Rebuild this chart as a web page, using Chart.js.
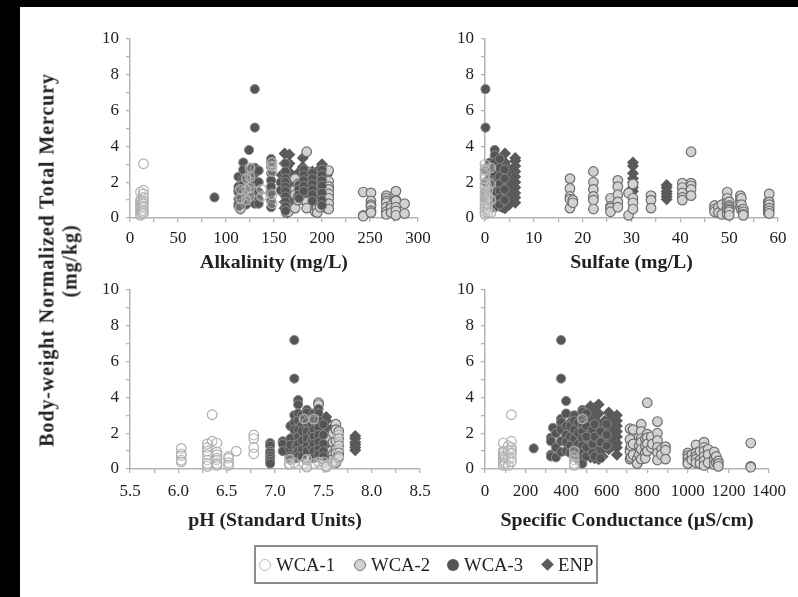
<!DOCTYPE html>
<html>
<head>
<meta charset="utf-8">
<script src="https://cdn.jsdelivr.net/npm/chart.js@4"></script>
<style>
  html, body { margin: 0; background: #fff; }
  body { position: relative; width: 798px; height: 597px; overflow: hidden; font-family: "Liberation Serif", serif; color: #222; }
  canvas { position: absolute; filter: blur(0.5px); }
  .band { position: absolute; background: #000; }
  .ylabel { position: absolute; font-weight: bold; font-size: 20px; letter-spacing: 0.9px; white-space: nowrap; filter: blur(0.4px); transform: translate(-50%, -50%) rotate(-90deg); }
  #legend { position: absolute; left: 254px; top: 545px; width: 340px; height: 35px; border: 2px solid #8c8c8c; filter: blur(0.4px); }
  #legend span { position: absolute; top: 6px; font-size: 18.7px; line-height: 24px; }
  #legend i { position: absolute; top: 12px; box-sizing: border-box; }
</style>
</head>
<body>
<div class="band" style="left:0;top:0;width:798px;height:7px"></div>
<div class="band" style="left:0;top:0;width:20px;height:597px"></div>
<div class="ylabel" style="left:47px;top:260px">Body-weight Normalized Total Mercury</div>
<div class="ylabel" style="left:70px;top:261px">(mg/kg)</div>
<canvas id="alk"></canvas>
<canvas id="so4"></canvas>
<canvas id="ph"></canvas>
<canvas id="sc"></canvas>
<div id="legend"></div>

<script>
// ===== DATA: each column is [x, y, y, y ...] =====

const seriesNames = ['WCA-1', 'WCA-2', 'WCA-3', 'ENP'];

const alkWca1 = [[11,1.45,1.0,.9,.75,.65,.5,.35,.2,.15],[12.5,.85,.6,.3],[14,3.03,1.55,1.35,1.15,.95,.8,.6,.4,.25],
  [115,1.6,1.1,.6],[121,2.2,1.6,1.0],[125,2.8,2.3,1.7,1.2],[137,1.6,1.2],[148,3.1,2.9,2.6,1.3,.8]];
const alkWca2 = [[115,.5],[163,.3],[165,.55,.35],[172,2.2,1.6,1.3,.55],[175,1.9,1.2,1.0],[184,3.7,2.6,2.2,.9,.55],
  [193,.75,.45,.35],[195,.55,.3],[198,.6],[205,.55],[207,2.65,2.05,1.75,1.6,1.35,1.1,.8,.5],[243,1.45,.15,.1],
  [251,1.4,.95,.75,.65,.4,.3],[267,1.25,1.1,.95,.85,.6,.35,.2],[272,.7,.55,.3],[277,1.5,1.0,.95,.6,.4,.15],[286,.8,.25]];
const alkWca3 = [[88,1.15],[113,2.3,1.75,1.55,1.45,1.05,.8,.65],[118,3.1,2.7,2.2,1.9,1.5,.9],[121,1.3,.9,.75],[124,3.8,2.4,1.9,1.5,1.0],
  [127,2.8,2.3,2.0,1.45,.95],[130,7.2,5.05,2.8,2.5,2,1.45,.95,.8],[134,2.65,2.0,1.45,1.05,.8],[147,3.3,3.1,2.85,2.5,2.1,1.75,1.4,.95,.6],
  [157,2.0,1.55],[162,3.05,2.6,2.2,2.0,1.75,1.5,1.2,.9,.65,.4],[176,1.85,1.6,1.3,1.1],[181,2.7,2.4,2.1,1.8,1.5],
  [190,2.5,2.2,1.9,1.6,1.3,.95],[200,2.7,2.4,2.1,1.8,1.4,1.0,.7]];
const alkEnp = [[158,2.4,1.9,1.5],[161,3.6,3.05,2.55,2.1,1.7,1.3,.9,.55],[164,2.9,2.3,1.9,1.5,1.1,.8,.4,.3],[166,3.55,3.05,2.55,2.2,1.8,1.4,1.0,.7],
  [170,2.2,1.8,1.4,1.0],[175,2.5,2.1,1.7,1.3,1.1],[180,3.35,2.85,2.5,2.2,1.9,1.6,1.3,1.05],[185,2.4,2.0,1.6,1.25],
  [190,2.6,2.3,2,1.7,1.4,1.1],[195,2.6,2.2,1.8,1.4,1.0],[200,3.0,2.8,2.4,2.0,1.7,1.3,1.0,.75],[205,2.4,2.0,1.6,1.2]];

const so4Wca1 = [[0,3.0,2.7,2.4,2.2,1.9,1.7,1.45,1.3,1.1,.9,.75,.6,.5,.35,.2],[.6,1.55,1.2,.8,.5,.3],[1.2,2.8,1.9,1.0,.3]];
const so4Wca2 = [[17.4,2.2,1.65,1.2,1.05,.55],[18,1,.85],[22.2,2.6,2.0,1.6,1.2,1.0,.5],[25.7,1.1,.65,.55,.35],
  [27.2,2.1,1.75,1.3,.9,.6],[29.4,1.4,.15],[30.3,1.9,1.1,.85,.5],[34,1.25,1.0,.55],[40.4,1.95,1.7,1.4,1.15,1.0],
  [42.2,3.7,1.95,1.8,1.6,1.25],[47,.7,.5,.35],[47.8,.6,.3],[48.5,.75,.2],[49.6,1.45,1.1,.85,.6,.4,.2],[50,.9,.7,.6,.5,.45,.35,.15],
  [52.3,1.25,1.05,.85,.6],[52.5,1.1,.75,.45],[52.9,.5,.35,.2,.15],[58,.9,.65,.45,.3],[58.2,1.35,.9,.75,.55,.4,.25]];
const so4Wca3 = [[.1,7.2,5.05,2.65,2.0,1.5,1.1],[.4,2.65],[1,3.1,2.7,2.2,1.8,1.4,.9],[2,3.8,3.5,3.1,2.5,2.0,1.5,1.0,.6],
  [3,3.3,2.8,2.3,1.9,1.5,1.1,.75],[4,2.7,2.2,1.6,1.0]];
const so4Enp = [[1.5,2.3,1.6,1.0,.6],[2,3.0,2.4,1.8,1.3,.9],[3.1,2.6,2.2,1.8,1.4,1.0,.65],[3.6,3.2,2.6,2.0,1.5,.9,.6],
  [4.1,3.6,3.1,2.7,2.3,2.0,1.6,1.3,.95,.55],[5,2.7,2.2,1.8,1.4,1.0,.75],[6.2,3.35,3.2,2.9,2.6,2.3,2.0,1.7,1.4,1.15,.85],
  [30.3,3.1,2.9,2.5,2.2,2.0,1.7,1.5],[37.2,1.85,1.7,1.5,1.35,1.2,1.05]];

const phWca1 = [[6.03,1.15,.85,.75,.5,.4],[6.3,1.4,1.2,1.0,.8,.5,.3,.15],[6.35,3.03,1.55],[6.4,1.45,.95,.8,.6,.5,.3,.2],
  [6.52,.7,.6,.35,.2],[6.6,1.0],[6.78,1.9,1.7,1.2,.85],[7.15,.55,.3,.25],[7.2,.35],[7.3,2.8,.3],[7.33,.55,.15,.1],[7.4,2.8,.3],
  [7.45,.4],[7.5,.4],[7.53,.15,.1],[7.6,.4,.35],[7.66,1.9,1.5,1.1,.6]];
const phWca2 = [[7.28,.7],[7.33,.5],[7.45,3.7,3.6],[7.5,.55],[7.53,.15],[7.55,1.8,.95],[7.58,1.0,.7],[7.6,2.0,1.5,.8,.55],
  [7.63,2.5,2.2,1.55,1.1,.9,.5,.35],[7.66,2.1,1.7,1.3,.9,.7]];
const phWca3 = [[6.95,1.45,1.3,1.0,.9,.75,.6,.45,.3],[7.08,1.55,1.4,1.0],[7.15,1.15,.7],[7.16,2.4,1.7,1.35,.5],[7.2,7.2,5.05,3.0,2.6,2.2],
  [7.22,1.3,.9,.6],[7.24,3.85,3.6,3.1,2.7,2.2,1.8,1.4,1,.7],[7.28,3.0,2.5,2.1,1.6,1.1,.7],[7.33,3.3,3.15,2.6,2.1,1.7,1.3,1.0],
  [7.38,2.5,2.0,1.6,1.2],[7.4,3.1,2.7,2.2,1.8,1.4,1.0,.6],[7.45,3.35,3.1,2.7,2.3,1.9,1.5,1.1,.8],[7.5,2.5,1.9,1.4,1.0,.7]];
const phEnp = [[7.2,2.4,1.9,1.5,1.0,.6],[7.25,2.6,2.0,1.6,1.1],[7.28,2.9,2.4,2,1.6,1.2,.8],[7.33,2.8,2.3,1.8,1.5,.9,.65],
  [7.38,2.8,2.4,2,1.6,1.2,.85],[7.43,2.7,2.2,1.8,1.4,1],[7.48,2.6,2.1,1.6,1.2,.8],[7.53,2.9,2.7,2.3,1.9,1.5,1,.75],
  [7.58,2.2,1.8,1.3,.9],[7.83,1.85,1.7,1.5,1.35,1.2,1.05]];

const scWca1 = [[90,1.45,1.0,.9,.75,.65,.5,.35,.2],[100,.6,.3],[115,1.3,1.0,.6,.2],[130,3.03,1.55,1.2,1.05,.9,.6,.4],[440,1.0,.7,.5,.3,.2],[480,2.8]];
const scWca2 = [[715,2.25,1.65,1.1,.95,.55],[720,1.3,.65],[730,2.2,1.4,.8],[750,.55,.3],[760,1.8,1.3,.8],[770,2.5,2.1,1.7,1.5,1.1,.55],
  [790,1.7,1.3,.9,.6],[800,3.7,1.95,1.75,1.4,1.0],[820,1.8,1.2],[825,1.4],[850,2.65,2.0,1.6,1.2,.9,.5],[870,1.1,.8],[890,1.25,1.05,.55],
  [1000,.9,.75,.6,.4,.3],[1020,.8,.5],[1040,1.35,.9,.7,.55,.35],[1060,1.0,.5,.3],[1080,1.5,1.2,1.0,.7,.45,.2],[1100,1.1,.8,.35],
  [1130,.95,.6,.5,.25],[1140,.7,.35],[1150,.45,.3,.15],[1310,1.45,.15,.1]];
const scWca3 = [[240,1.15],[325,1.75,1.55,.8,.7],[335,2.3],[350,2.0,1.2,.65],[375,7.2,5.05,2.8,2.6,2.2,1.55,.95],[400,3.8,3.1,2.4,1.9,1.5,1.0],
  [420,2.4,1.8,1.3,.9],[440,3.0,2.7,2.2,1.7,1.1,.8],[460,2.6,2.0,1.4,.9,.5],[480,3.3,3.2,2.8,2.5,2.1,1.7,1.3,.9,.6,.3],[500,3.1,2.4,1.8,1.2,.7],
  [530,2.2,1.4,.9],[540,2.5,1.8,.7],[570,2.1,1.5,.6],[600,2.5,1.9,1.3]];
const scEnp = [[420,2.6,2.0,1.5],[500,2.6,1.8,1.2],[520,3.5,3.3,2.9,2.5,2.1,1.7,1.3,.95,.65],[540,3.4,2.8,2.2,1.6,1.1,.6],
  [560,3.6,3.1,2.4,2,1.7,1.3,.9,.55],[580,2.5,2.1,1.5,1.1,.7],[590,2.7,2.2,1.8],[610,3.15,2.7,2.3,1.9,1.5,1.1],[630,2.8,2.2,1.7,1.3],
  [650,3.0,2.7,2.4,2.1,1.8,1.45,1.2,.8]];

// ===== STYLES =====

const FONT = 'Liberation Serif';
const AXIS = '#b4b4b4';

// later in this list means drawn on top
const styles = [
  { key: 3, pointStyle: 'rectRot', radius: 6, backgroundColor: '#5a5a5a', borderColor: '#5a5a5a', borderWidth: 0 },
  { key: 1, pointStyle: 'circle', radius: 4.8, backgroundColor: '#d2d2d2', borderColor: '#6e6e6e', borderWidth: 1.2 },
  { key: 2, pointStyle: 'circle', radius: 4.6, backgroundColor: '#555', borderColor: '#8a8a8a', borderWidth: 1 },
  { key: 0, pointStyle: 'circle', radius: 4.8, backgroundColor: 'rgba(255,255,255,0.15)', borderColor: '#b0b0b0', borderWidth: 1.2 },
];

function columnsToPoints(columns) {
  return columns.flatMap(([x, ...ys]) => ys.map(y => ({ x, y })));
}

function renderPanel(id, p, seriesColumns) {
  const canvas = document.getElementById(id);
  const padTop = 14;
  canvas.width = p.canvasRight - p.canvasLeft;
  canvas.height = padTop + p.plotH + p.axisH;
  canvas.style.left = p.canvasLeft + 'px';
  canvas.style.top = (p.plotTop - padTop) + 'px';

  const datasets = styles.map((s, i) => ({
    label: seriesNames[s.key],
    data: columnsToPoints(seriesColumns[s.key]),
    order: styles.length - i,
    clip: false,
    showLine: false,
    pointStyle: s.pointStyle,
    pointRadius: s.radius,
    pointBackgroundColor: s.backgroundColor,
    pointBorderColor: s.borderColor,
    pointBorderWidth: s.borderWidth,
  }));

  return new Chart(canvas, {
    type: 'scatter',
    data: { datasets },
    options: {
      responsive: false,
      animation: false,
      layout: { padding: { top: padTop, right: p.canvasRight - p.plotRight, bottom: 0, left: 0 } },
      plugins: { legend: { display: false }, tooltip: { enabled: false } },
      scales: {
        x: {
          type: 'linear',
          min: p.min,
          max: p.max,
          // keep the plot box where it is in the picture, whatever the label widths
          afterFit: s => { s.height = p.axisH; s.paddingLeft = 0; s.paddingRight = 0; },
          ticks: {
            stepSize: p.minor,
            autoSkip: false,
            maxRotation: 0,
            padding: p.labelPad,
            color: '#222',
            font: { family: FONT, size: 17 },
            callback: v => {
              const n = v / p.major;
              return Math.abs(n - Math.round(n)) < 1e-6 ? v.toFixed(p.decimals) : '';
            },
          },
          grid: { drawOnChartArea: false, tickLength: 4, color: AXIS, lineWidth: 1.3 },
          border: { color: AXIS, width: 1.5 },
          title: { display: true, text: p.title, color: '#222', padding: 0, font: { family: FONT, size: 19.8, weight: 'bold' } },
        },
        y: {
          min: 0,
          max: 10,
          afterFit: s => { s.width = p.plotLeft - p.canvasLeft; s.paddingTop = 0; s.paddingBottom = 0; },
          ticks: {
            stepSize: 1,
            autoSkip: false,
            padding: 7,
            color: '#222',
            font: { family: FONT, size: 17 },
            callback: v => (v % 2 === 0 ? v : ''),
          },
          grid: { drawOnChartArea: false, tickLength: 4, color: AXIS, lineWidth: 1.3 },
          border: { color: AXIS, width: 1.5 },
        },
      },
    },
  });
}

renderPanel('alk', { canvasLeft: 88, canvasRight: 433, plotLeft: 130, plotRight: 418, plotTop: 39, plotH: 179, axisH: 57, labelPad: 6,
  min: 0, max: 300, minor: 25, major: 50, decimals: 0, title: 'Alkalinity (mg/L)' },
  [alkWca1, alkWca2, alkWca3, alkEnp]);
renderPanel('so4', { canvasLeft: 443, canvasRight: 787, plotLeft: 485, plotRight: 778, plotTop: 39, plotH: 179, axisH: 57, labelPad: 6,
  min: 0, max: 60, minor: 5, major: 10, decimals: 0, title: 'Sulfate (mg/L)' },
  [so4Wca1, so4Wca2, so4Wca3, so4Enp]);
renderPanel('ph', { canvasLeft: 88, canvasRight: 433, plotLeft: 130, plotRight: 420, plotTop: 290, plotH: 179, axisH: 64, labelPad: 8,
  min: 5.5, max: 8.5, minor: 0.25, major: 0.5, decimals: 1, title: 'pH (Standard Units)' },
  [phWca1, phWca2, phWca3, phEnp]);
renderPanel('sc', { canvasLeft: 443, canvasRight: 787, plotLeft: 485, plotRight: 769, plotTop: 290, plotH: 179, axisH: 64, labelPad: 8,
  min: 0, max: 1400, minor: 100, major: 200, decimals: 0, title: 'Specific Conductance (µS/cm)' },
  [scWca1, scWca2, scWca3, scEnp]);

// ===== LEGEND =====

const legendMarks = [
  { left: 3, text: 20, css: 'width:12px;height:12px;border-radius:50%;background:#fff;border:1px solid #bbb' },
  { left: 98, text: 115, css: 'width:12px;height:12px;border-radius:50%;background:#d2d2d2;border:1px solid #777' },
  { left: 191, text: 208, css: 'width:12px;height:12px;border-radius:50%;background:#555' },
  { left: 287, text: 302, css: 'width:9px;height:9px;margin-top:1px;transform:rotate(45deg);background:#5a5a5a' },
];
const legend = document.getElementById('legend');
seriesNames.forEach((name, i) => {
  const m = legendMarks[i];
  legend.insertAdjacentHTML('beforeend',
    `<i style="left:${m.left}px;${m.css}"></i><span style="left:${m.text}px">${name}</span>`);
});
</script>
</body>
</html>
